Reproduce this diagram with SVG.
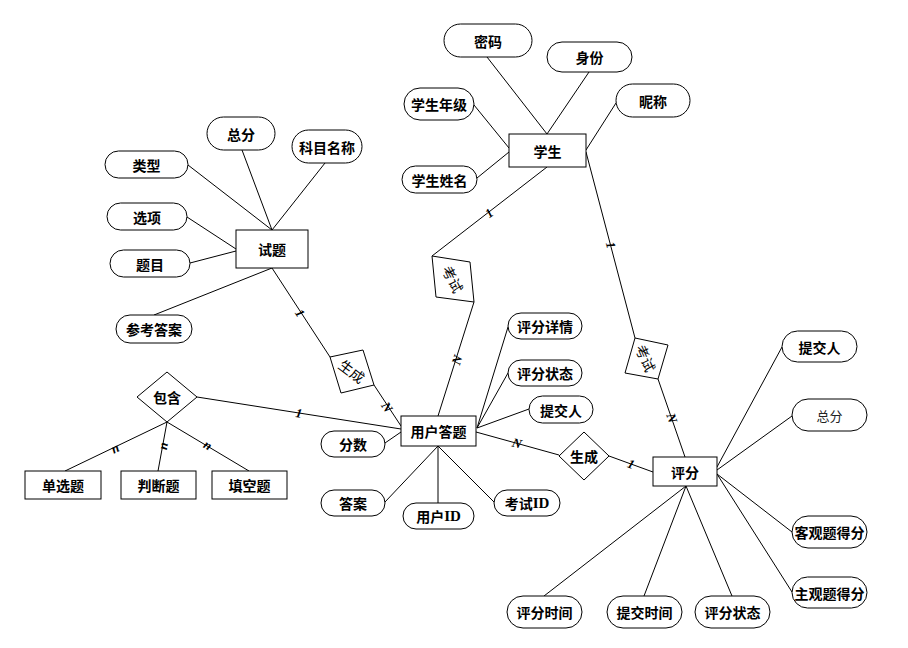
<svg xmlns="http://www.w3.org/2000/svg" width="908" height="648" viewBox="0 0 908 648">
<style>
.ln{stroke:#000;stroke-width:1;fill:none}
.pill,.ent,.dia{fill:#fff;stroke:#000;stroke-width:1}
.t{font-family:"Noto Sans CJK SC","Liberation Sans",sans-serif;font-size:14px;font-weight:bold;text-anchor:middle;dominant-baseline:central;fill:#000}
.tn{font-family:"Noto Sans CJK SC","Liberation Sans",sans-serif;font-size:14px;font-weight:normal;text-anchor:middle;dominant-baseline:central;fill:#000}
.lat{font-family:"Liberation Serif",serif;font-weight:bold;font-size:15px}
.c{font-family:"Liberation Serif",serif;font-size:13px;font-weight:bold;font-style:italic;text-anchor:middle;dominant-baseline:central;fill:#000}
</style>
<rect width="908" height="648" fill="#fff"/>
<g id="connectors">
<line class="ln" x1="487" y1="57" x2="547" y2="134"/>
<line class="ln" x1="589" y1="72" x2="547" y2="134"/>
<line class="ln" x1="474" y1="105" x2="509" y2="148"/>
<line class="ln" x1="477" y1="178" x2="509" y2="152"/>
<line class="ln" x1="616" y1="103" x2="586" y2="150"/>
<line class="ln" x1="547" y1="167" x2="432" y2="256"/>
<line class="ln" x1="474" y1="302" x2="438" y2="416"/>
<line class="ln" x1="586" y1="152" x2="635" y2="338"/>
<line class="ln" x1="658" y1="379" x2="685" y2="457"/>
<line class="ln" x1="188" y1="165" x2="272" y2="230"/>
<line class="ln" x1="242" y1="150" x2="272" y2="230"/>
<line class="ln" x1="325" y1="163" x2="272" y2="230"/>
<line class="ln" x1="187" y1="217" x2="236" y2="249"/>
<line class="ln" x1="190" y1="263" x2="236" y2="251"/>
<line class="ln" x1="154" y1="315" x2="272" y2="268"/>
<line class="ln" x1="272" y1="268" x2="330" y2="357"/>
<line class="ln" x1="374" y1="385" x2="401" y2="426"/>
<line class="ln" x1="197" y1="397" x2="401" y2="429"/>
<line class="ln" x1="167" y1="422" x2="65" y2="471"/>
<line class="ln" x1="167" y1="422" x2="158" y2="471"/>
<line class="ln" x1="167" y1="422" x2="249" y2="471"/>
<line class="ln" x1="477" y1="428" x2="508" y2="327"/>
<line class="ln" x1="477" y1="428" x2="508" y2="373"/>
<line class="ln" x1="477" y1="428" x2="529" y2="409"/>
<line class="ln" x1="385" y1="443" x2="401" y2="432"/>
<line class="ln" x1="385" y1="502" x2="438" y2="446"/>
<line class="ln" x1="438" y1="446" x2="438" y2="503"/>
<line class="ln" x1="438" y1="446" x2="494" y2="502"/>
<line class="ln" x1="476" y1="432" x2="559" y2="455"/>
<line class="ln" x1="609" y1="456" x2="653" y2="472"/>
<line class="ln" x1="717" y1="467" x2="782" y2="347"/>
<line class="ln" x1="717" y1="470" x2="792" y2="416"/>
<line class="ln" x1="717" y1="474" x2="792" y2="532"/>
<line class="ln" x1="717" y1="474" x2="792" y2="592"/>
<line class="ln" x1="686" y1="486" x2="544" y2="596"/>
<line class="ln" x1="686" y1="486" x2="644" y2="596"/>
<line class="ln" x1="686" y1="486" x2="732" y2="596"/>
<text class="c" transform="translate(300,313) rotate(57)">1</text>
<text class="c" transform="translate(387,407) rotate(57)">N</text>
<text class="c" transform="translate(299,413) rotate(9)">1</text>
<text class="c" transform="translate(489,213) rotate(-38)">1</text>
<text class="c" transform="translate(457,360) rotate(-72)">N</text>
<text class="c" transform="translate(611,245) rotate(75)">1</text>
<text class="c" transform="translate(672,418) rotate(71)">N</text>
<text class="c" transform="translate(517,443) rotate(15)">N</text>
<text class="c" transform="translate(631,464) rotate(20)">1</text>
<text class="c" transform="translate(115,448) rotate(-26)">n</text>
<text class="c" transform="translate(163,446) rotate(-80)">n</text>
<text class="c" transform="translate(208,445) rotate(31)">n</text>
</g>
<g id="xuesheng"><rect class="ent" x="509" y="134" width="77" height="33"/><text class="t" x="547.5" y="151">学生</text></g>
<g id="shiti"><rect class="ent" x="236" y="230" width="72" height="38"/><text class="t" x="272" y="249">试题</text></g>
<g id="yonghudati"><rect class="ent" x="401" y="416" width="75" height="30"/><text class="t" x="438.5" y="431">用户答题</text></g>
<g id="pingfen"><rect class="ent" x="653" y="457" width="64" height="29"/><text class="t" x="685" y="471.5">评分</text></g>
<g id="danxuanti"><rect class="ent" x="25" y="471" width="76" height="28"/><text class="t" x="63" y="485">单选题</text></g>
<g id="panduanti"><rect class="ent" x="121" y="471" width="75" height="28"/><text class="t" x="158.5" y="485">判断题</text></g>
<g id="tiankongti"><rect class="ent" x="212" y="471" width="75" height="28"/><text class="t" x="249.5" y="485">填空题</text></g>
<g id="baohan"><polygon class="dia" points="137,397 167,372 197,397 167,422"/><text class="t" x="167" y="397">包含</text></g>
<g id="shengcheng1"><polygon class="dia" points="330,357 363,350 374,385 341,393"/><text class="tn" transform="translate(352,371) rotate(37)">生成</text></g>
<g id="kaoshi1"><polygon class="dia" points="432,256 470,262 474,302 436,297"/><text class="tn" transform="translate(453,279) rotate(63)">考试</text></g>
<g id="kaoshi2"><polygon class="dia" points="635,338 668,345 658,379 625,373"/><text class="tn" transform="translate(646,358) rotate(66)">考试</text></g>
<g id="shengcheng2"><polygon class="dia" points="559,456 584,432 609,456 584,480"/><text class="t" x="584" y="456">生成</text></g>
<g id="mima"><rect class="pill" x="444" y="24" width="88" height="33" rx="16.5"/><text class="t" x="488" y="40.5">密码</text></g>
<g id="shenfen"><rect class="pill" x="547" y="42" width="85" height="30" rx="15"/><text class="t" x="589.5" y="57">身份</text></g>
<g id="nianji"><rect class="pill" x="404" y="88" width="70" height="32" rx="16"/><text class="t" x="439" y="104">学生年级</text></g>
<g id="nicheng"><rect class="pill" x="616" y="84" width="74" height="33" rx="16.5"/><text class="t" x="653" y="100.5">昵称</text></g>
<g id="xingming"><rect class="pill" x="402" y="166" width="75" height="27" rx="13.5"/><text class="t" x="439.5" y="179.5">学生姓名</text></g>
<g id="zongfen1"><rect class="pill" x="207" y="117" width="68" height="33" rx="16.5"/><text class="t" x="241" y="133.5">总分</text></g>
<g id="kemu"><rect class="pill" x="292" y="130" width="70" height="33" rx="16.5"/><text class="t" x="327" y="146.5">科目名称</text></g>
<g id="leixing"><rect class="pill" x="105" y="151" width="83" height="27" rx="13.5"/><text class="t" x="146.5" y="164.5">类型</text></g>
<g id="xuanxiang"><rect class="pill" x="107" y="203" width="80" height="27" rx="13.5"/><text class="t" x="147" y="216.5">选项</text></g>
<g id="timu"><rect class="pill" x="110" y="250" width="80" height="27" rx="13.5"/><text class="t" x="150" y="263.5">题目</text></g>
<g id="cankao"><rect class="pill" x="116" y="315" width="76" height="28" rx="14"/><text class="t" x="154" y="329">参考答案</text></g>
<g id="fenshu"><rect class="pill" x="321" y="431" width="64" height="26" rx="13"/><text class="t" x="353" y="444">分数</text></g>
<g id="daan"><rect class="pill" x="321" y="490" width="64" height="26" rx="13"/><text class="t" x="353" y="503">答案</text></g>
<g id="yonghuid"><rect class="pill" x="403" y="503" width="71" height="26" rx="13"/><text class="t" x="438.5" y="516">用户<tspan class="lat">ID</tspan></text></g>
<g id="kaoshiid"><rect class="pill" x="494" y="490" width="66" height="26" rx="13"/><text class="t" x="527" y="503">考试<tspan class="lat">ID</tspan></text></g>
<g id="xiangqing"><rect class="pill" x="508" y="313" width="74" height="26" rx="13"/><text class="t" x="545" y="326">评分详情</text></g>
<g id="zhuangtai1"><rect class="pill" x="508" y="360" width="74" height="26" rx="13"/><text class="t" x="545" y="373">评分状态</text></g>
<g id="tijiaoren1"><rect class="pill" x="529" y="396" width="64" height="27" rx="13.5"/><text class="t" x="561" y="409.5">提交人</text></g>
<g id="tijiaoren2"><rect class="pill" x="782" y="331" width="75" height="31" rx="15.5"/><text class="t" x="819.5" y="346.5">提交人</text></g>
<g id="zongfen2"><rect class="pill" x="792" y="399" width="75" height="32" rx="16"/><text class="tn" x="829.5" y="415" style="font-size:13px;fill:#222">总分</text></g>
<g id="keguan"><rect class="pill" x="792" y="516" width="75" height="32" rx="16"/><text class="t" x="829.5" y="532">客观题得分</text></g>
<g id="zhuguan"><rect class="pill" x="792" y="577" width="75" height="31" rx="15.5"/><text class="t" x="829.5" y="592.5">主观题得分</text></g>
<g id="pfsj"><rect class="pill" x="507" y="596" width="75" height="32" rx="16"/><text class="t" x="544.5" y="612">评分时间</text></g>
<g id="tjsj"><rect class="pill" x="607" y="596" width="75" height="32" rx="16"/><text class="t" x="644.5" y="612">提交时间</text></g>
<g id="zhuangtai2"><rect class="pill" x="695" y="596" width="75" height="32" rx="16"/><text class="t" x="732.5" y="612">评分状态</text></g>
</svg>
